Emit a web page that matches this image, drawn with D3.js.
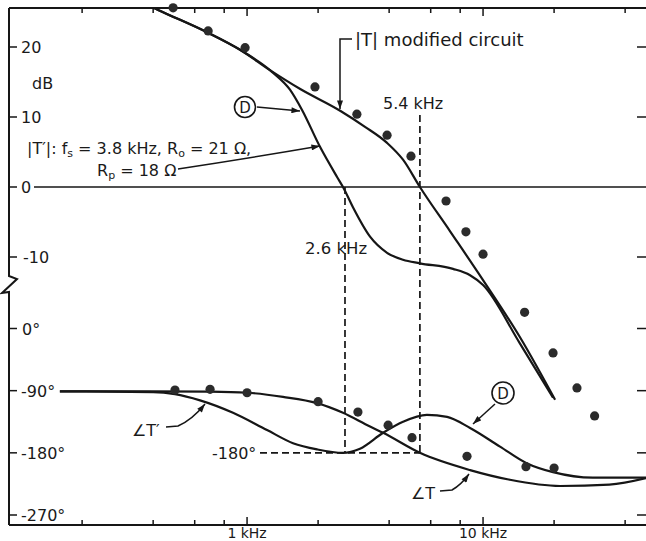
<!DOCTYPE html>
<html>
<head>
  <meta charset="utf-8">
  <title>Loop gain, modified circuit</title>
  <script src="https://cdn.jsdelivr.net/npm/d3@7"></script>
  <style>
    body { margin: 0; background: #fff; }
    text { font-family: "DejaVu Sans", "Liberation Sans", sans-serif; fill: #1a1a1a; }
  </style>
</head>
<body>
<script>

// frequencies in kHz, magnitude in dB, phase in degrees
const magFreqT = [0.38, 0.42, 0.677, 0.934, 1.25, 1.68, 2.48, 3.16, 3.92, 4.58, 5.4, 7.24, 10.0, 14.3, 20.2];
const magT     = [26.0, 25.3, 22.1, 19.6, 16.7, 14.0, 10.9, 8.6, 6.3, 3.9, 0, -6.3, -13.3, -21.4, -30.4];

const magFreqTp = [0.38, 0.42, 0.677, 0.934, 1.25, 1.29, 1.52, 1.71, 2.04, 2.41, 2.55, 2.81, 3.32, 3.92, 4.58, 5.4, 7.46, 8.81, 10.0, 14.3, 19.8];
const magTp     = [26.0, 25.3, 22.1, 19.6, 16.7, 16.3, 13.9, 11.0, 5.7, 1.4, 0, -2.9, -7.1, -9.4, -10.4, -10.9, -11.7, -12.6, -14.0, -22.3, -30.1];

const phFreqT = [0.161, 0.388, 0.697, 1.0, 1.42, 1.98, 2.55, 3.32, 3.77, 5.4, 8.81, 13.0, 21.2, 34.3, 50];
const phT     = [-91, -91, -91.5, -93, -99, -108, -122, -142, -151, -180, -205, -219, -228, -226, -216];

const phFreqTp = [0.161, 0.4, 0.495, 0.632, 0.872, 1.215, 1.566, 1.98, 2.55, 3.01, 3.77, 4.58, 5.78, 7.04, 8.81, 11.8, 15.3, 19.8, 29.2, 50];
const phTp     = [-91, -92, -95, -104, -122, -147, -166, -175, -180, -174, -151, -135, -125, -128, -144, -171, -195, -208, -216, -216];

// measured points
const dotMagFreq = [0.486, 0.684, 0.981, 1.94, 2.92, 3.92, 4.95, 6.97, 8.46, 10.0, 15.0, 19.8, 25.0, 29.7];
const dotMag     = [25.6, 22.3, 19.9, 14.3, 10.4, 7.4, 4.4, -2.0, -6.4, -9.6, -17.9, -23.7, -28.7, -32.7];
const dotPhFreq = [0.495, 0.697, 1.0, 2.0, 2.95, 3.96, 5.0, 8.55, 15.2, 20.0];
const dotPh     = [-89, -88, -93, -106, -121, -140, -158, -185, -200, -202];

const xTicks = [0.2, 0.4, 0.6, 0.8, 1, 2, 4, 6, 8, 10, 20, 40];
const xLabels = [[1, "1 kHz"], [10, "10 kHz"]];
const dbTicks = [20, 10, 0, -10];
const phTicks = [0, -90, -180, -270];

const W = 646, H = 541;
const pL = 9, pT = 8, pB = 525, pR = 648;

const x = d3.scaleLog().domain([0.098, 50]).range([pL, pR]);
const yDb = d3.scaleLinear().domain([-10, 20]).range([257, 47]);
const yPh = d3.scaleLinear().domain([-270, 0]).range([515, 328.5]);

const ink = "#161616";

const svg = d3.select("body").append("svg")
  .attr("width", W).attr("height", H);

const defs = svg.append("defs");
defs.append("marker")
  .attr("id", "arr")
  .attr("viewBox", "0 0 10 7")
  .attr("refX", 10).attr("refY", 3.5)
  .attr("markerWidth", 10).attr("markerHeight", 6)
  .attr("markerUnits", "userSpaceOnUse")
  .attr("orient", "auto")
  .append("path").attr("d", "M0,0 L10,3.5 L0,7 z").attr("fill", ink);

defs.append("clipPath").attr("id", "plot")
  .append("rect").attr("x", pL).attr("y", pT)
  .attr("width", pR - pL).attr("height", pB - pT);

// frame
const frame = svg.append("g").attr("stroke", ink).attr("stroke-width", 2).attr("fill", "none");
frame.append("line").attr("x1", pL).attr("x2", W).attr("y1", pT).attr("y2", pT);
frame.append("line").attr("x1", pL).attr("x2", W).attr("y1", pB).attr("y2", pB);
frame.append("path")
  .attr("d", `M${pL},${pT} L${pL},276 L17,279 L2,293 L${pL},292 L${pL},${pB}`);

// x ticks top and bottom
xTicks.forEach(t => {
  const len = (t === 1 || t === 10) ? 8 : 5;
  frame.append("line").attr("x1", x(t)).attr("x2", x(t)).attr("y1", pT).attr("y2", pT + len).attr("stroke-width", 1.5);
  frame.append("line").attr("x1", x(t)).attr("x2", x(t)).attr("y1", pB).attr("y2", pB - len).attr("stroke-width", 1.5);
});
xLabels.forEach(d => {
  svg.append("text").attr("x", x(d[0])).attr("y", 538)
    .attr("text-anchor", "middle").attr("font-size", 14).text(d[1]);
});

// y ticks
dbTicks.forEach(t => {
  frame.append("line").attr("x1", pL).attr("x2", pL + 8).attr("y1", yDb(t)).attr("y2", yDb(t)).attr("stroke-width", 1.5);
  if (t !== 0) frame.append("line").attr("x1", 637).attr("x2", W).attr("y1", yDb(t)).attr("y2", yDb(t)).attr("stroke-width", 1.5);
  svg.append("text").attr("x", t < 0 ? 23 : 21).attr("y", yDb(t) + 6)
    .attr("font-size", 16).text(t);
});
phTicks.forEach(t => {
  frame.append("line").attr("x1", pL).attr("x2", pL + 8).attr("y1", yPh(t)).attr("y2", yPh(t)).attr("stroke-width", 1.5);
  frame.append("line").attr("x1", 637).attr("x2", W).attr("y1", yPh(t)).attr("y2", yPh(t)).attr("stroke-width", 1.5);
  svg.append("text").attr("x", t < 0 ? 21 : 22).attr("y", yPh(t) + 6)
    .attr("font-size", 16).text(t + "°");
});
svg.append("text").attr("x", 32).attr("y", 89).attr("font-size", 16).text("dB");

// 0 dB line
svg.append("line").attr("x1", 34).attr("x2", W)
  .attr("y1", yDb(0)).attr("y2", yDb(0))
  .attr("stroke", ink).attr("stroke-width", 1.5);

// dashed guides
const dash = svg.append("g").attr("stroke", ink).attr("stroke-width", 1.7).attr("stroke-dasharray", "7,4");
dash.append("line").attr("x1", x(2.6)).attr("x2", x(2.6)).attr("y1", yDb(0)).attr("y2", yPh(-180));
dash.append("line").attr("x1", x(5.4)).attr("x2", x(5.4)).attr("y1", 115).attr("y2", yPh(-180));
dash.append("line").attr("x1", 260).attr("x2", x(5.4)).attr("y1", yPh(-180)).attr("y2", yPh(-180));

// curves
const curves = svg.append("g").attr("clip-path", "url(#plot)")
  .attr("fill", "none").attr("stroke", ink).attr("stroke-width", 2.2);

const magLine = d3.line().x(d => x(d[0])).y(d => yDb(d[1])).curve(d3.curveMonotoneX);
const phLine = d3.line().x(d => x(d[0])).y(d => yPh(d[1])).curve(d3.curveMonotoneX);

curves.append("path").attr("d", magLine(d3.zip(magFreqT, magT)));
curves.append("path").attr("d", magLine(d3.zip(magFreqTp, magTp)));
curves.append("path").attr("d", phLine(d3.zip(phFreqT, phT)));
curves.append("path").attr("d", phLine(d3.zip(phFreqTp, phTp)));

// measured dots
svg.append("g").selectAll("circle")
  .data(d3.zip(dotMagFreq, dotMag)).enter().append("circle")
  .attr("cx", d => x(d[0])).attr("cy", d => yDb(d[1])).attr("r", 4.6).attr("fill", "#2b2b2b");
svg.append("g").selectAll("circle")
  .data(d3.zip(dotPhFreq, dotPh)).enter().append("circle")
  .attr("cx", d => x(d[0])).attr("cy", d => yPh(d[1])).attr("r", 4.6).attr("fill", "#2b2b2b");

// annotations
const ann = svg.append("g").attr("fill", "none").attr("stroke", ink).attr("stroke-width", 1.5);

// |T| modified circuit
ann.append("path").attr("d", "M352,39 L340,39 L340,109").attr("marker-end", "url(#arr)");
svg.append("text").attr("x", 355).attr("y", 46).attr("font-size", 18).text("|T| modified circuit");

svg.append("text").attr("x", 383).attr("y", 109).attr("font-size", 16).text("5.4 kHz");
svg.append("text").attr("x", 305).attr("y", 254).attr("font-size", 16.5).text("2.6 kHz");
svg.append("text").attr("x", 212).attr("y", 459).attr("font-size", 16).text("-180°");

// circled D, magnitude
ann.append("circle").attr("cx", 245).attr("cy", 107).attr("r", 10.5).attr("stroke-width", 1.6);
svg.append("text").attr("x", 245).attr("y", 112.5).attr("text-anchor", "middle").attr("font-size", 15).text("D");
ann.append("path").attr("d", "M257,107 L300,111").attr("marker-end", "url(#arr)");

// |T'| parameters
const p1 = svg.append("text").attr("x", 27).attr("y", 154).attr("font-size", 16);
p1.append("tspan").text("|T′|: f");
p1.append("tspan").attr("font-size", 11).attr("dy", 3).text("s");
p1.append("tspan").attr("dy", -3).text(" = 3.8 kHz, R");
p1.append("tspan").attr("font-size", 11).attr("dy", 3).text("o");
p1.append("tspan").attr("dy", -3).text(" = 21 Ω,");
const p2 = svg.append("text").attr("x", 97).attr("y", 176).attr("font-size", 16);
p2.append("tspan").text("R");
p2.append("tspan").attr("font-size", 11).attr("dy", 3).text("p");
p2.append("tspan").attr("dy", -3).text(" = 18 Ω");
ann.append("path").attr("d", "M178,169 Q250,158 320,146").attr("marker-end", "url(#arr)");

// angle labels
svg.append("text").attr("x", 132).attr("y", 436).attr("font-size", 16).text("∠T′");
ann.append("path").attr("d", "M166,427 L178,426 Q192,420 205,404").attr("marker-end", "url(#arr)");

svg.append("text").attr("x", 411).attr("y", 499).attr("font-size", 16).text("∠T");
ann.append("path").attr("d", "M440,491 L452,490 Q461,485 469,474").attr("marker-end", "url(#arr)");

// circled D, phase
ann.append("circle").attr("cx", 503).attr("cy", 393).attr("r", 11).attr("stroke-width", 1.6);
svg.append("text").attr("x", 503).attr("y", 398.5).attr("text-anchor", "middle").attr("font-size", 15).text("D");
ann.append("path").attr("d", "M495,404 L473,424").attr("marker-end", "url(#arr)");

</script>
</body>
</html>
